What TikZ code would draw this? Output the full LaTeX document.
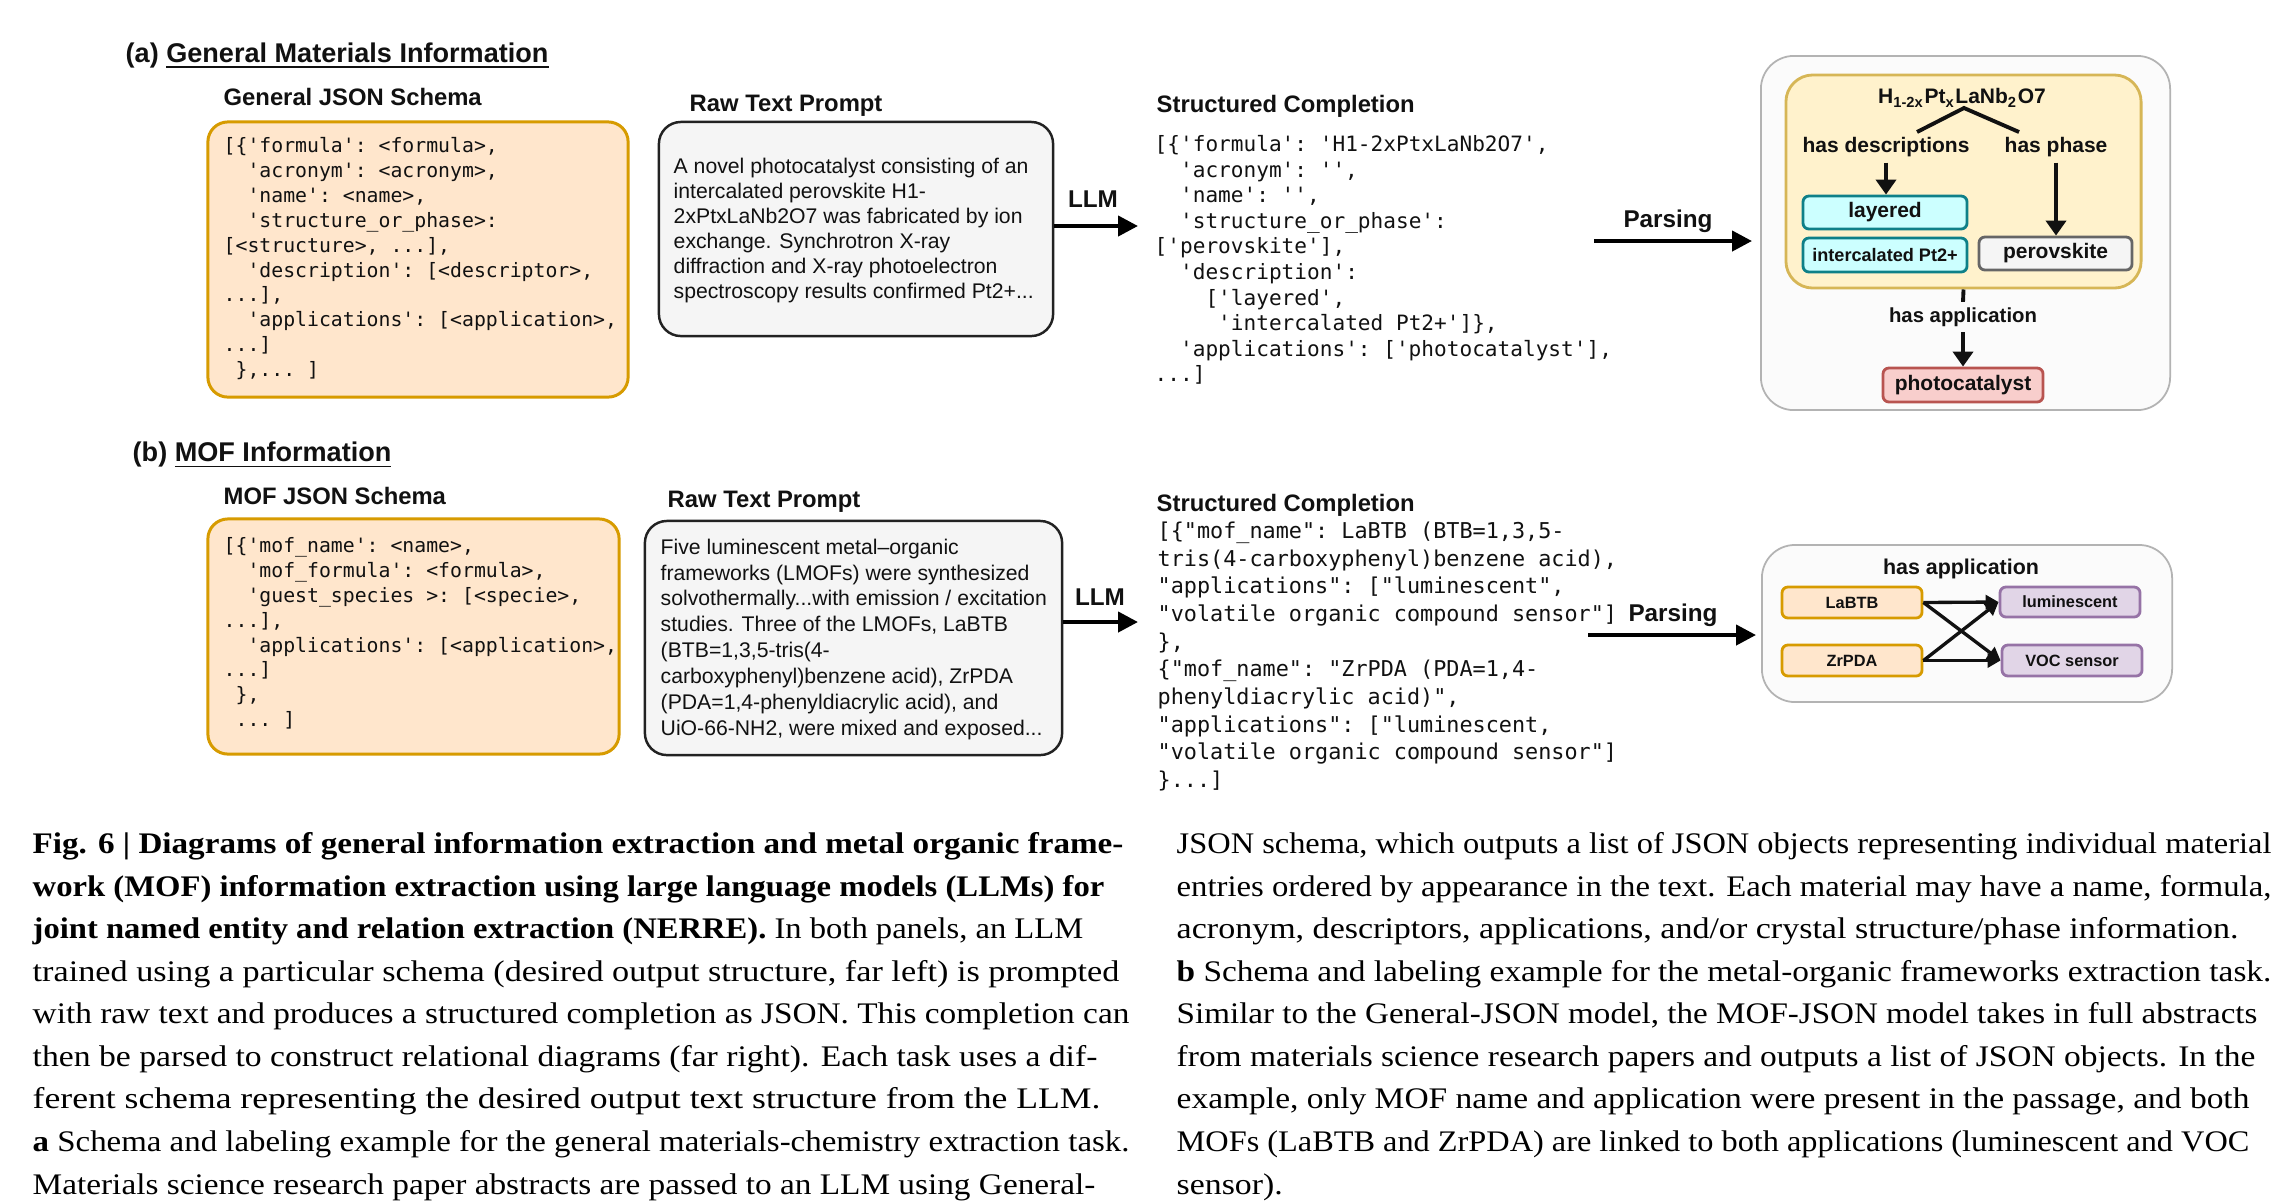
\documentclass[tikz,border=0pt]{standalone}
\usepackage{fontspec}
\usepackage{graphicx}
\setmainfont{Liberation Serif}
\setsansfont{Liberation Sans}
\setmonofont{DejaVu Sans Mono}
\usetikzlibrary{arrows.meta}
\definecolor{schemafill}{HTML}{FFE6CC}
\definecolor{schemaedge}{HTML}{D79B00}
\definecolor{promptfill}{HTML}{F5F5F5}
\definecolor{promptedge}{HTML}{222222}
\definecolor{outerfill}{HTML}{FBFBFB}
\definecolor{outeredge}{HTML}{B3B3B3}
\definecolor{yellowfill}{HTML}{FFF2CC}
\definecolor{yellowedge}{HTML}{D6B656}
\definecolor{tealfill}{HTML}{CCFFFF}
\definecolor{tealedge}{HTML}{0E8088}
\definecolor{grayfill}{HTML}{F5F5F5}
\definecolor{grayedge}{HTML}{666666}
\definecolor{redfill}{HTML}{F8CECC}
\definecolor{rededge}{HTML}{B85450}
\definecolor{purplefill}{HTML}{E1D5E7}
\definecolor{purpleedge}{HTML}{9673A6}
\definecolor{ink}{HTML}{111111}
\newcommand\capline[4]{\node[captxt] (#1) at (#2) {\resizebox{#3}{\height}{#4}};}
\tikzset{
  paneltitle/.style={font=\sffamily\bfseries\fontsize{7.7pt}{9pt}\selectfont, inner sep=0, anchor=base west, text=ink},
  ttl/.style={font=\sffamily\bfseries\fontsize{6.77pt}{8pt}\selectfont, inner sep=0, anchor=base west, text=ink},
  schemabox/.style={draw=schemaedge, fill=schemafill, line width=0.85pt, rounded corners=0.2cm, inner sep=0},
  promptbox/.style={draw=promptedge, fill=promptfill, line width=0.7pt, rounded corners=0.22cm, inner sep=0},
  jsonS/.style={font=\ttfamily\fontsize{5.63pt}{7.06pt}\selectfont, align=left, inner sep=0, anchor=north west, text=ink},
  jsonC/.style={font=\ttfamily\fontsize{6.0pt}{7.26pt}\selectfont, align=left, inner sep=0, anchor=north west, text=ink},
  jsonD/.style={font=\ttfamily\fontsize{6.2pt}{7.88pt}\selectfont, align=left, inner sep=0, anchor=north west, text=ink},
  prompttxt/.style={font=\sffamily\fontsize{6.03pt}{7.14pt}\selectfont, align=left, inner sep=0, anchor=north west, text=ink},
  arrowlbl/.style={font=\sffamily\bfseries\fontsize{6.9pt}{8pt}\selectfont, inner sep=0, text=ink},
  bigarrow/.style={line width=1.2pt, -{Triangle[length=0.2cm,width=0.2cm]}},
  outerbox/.style={draw=outeredge, fill=outerfill, line width=0.5pt, rounded corners=0.33cm, inner sep=0},
  yellowbox/.style={draw=yellowedge, fill=yellowfill, line width=0.8pt, rounded corners=0.27cm, inner sep=0},
  reltxt/.style={font=\sffamily\bfseries\fontsize{5.97pt}{7pt}\selectfont, inner sep=0, text=ink},
  smallbox/.style={line width=0.8pt, rounded corners=0.06cm, inner sep=0, font=\sffamily\bfseries\fontsize{5.97pt}{7pt}\selectfont, text=ink},
  tealbox/.style={smallbox, draw=tealedge, fill=tealfill},
  graybox/.style={smallbox, draw=grayedge, fill=grayfill},
  redbox/.style={smallbox, draw=rededge, fill=redfill},
  orangebox/.style={smallbox, draw=schemaedge, fill=schemafill, font=\sffamily\bfseries\fontsize{4.64pt}{6pt}\selectfont},
  purplebox/.style={smallbox, draw=purpleedge, fill=purplefill, font=\sffamily\bfseries\fontsize{4.64pt}{6pt}\selectfont},
  branchline/.style={line width=1.1pt, ink},
  relarrow/.style={line width=1.1pt, ink, -{Triangle[length=0.15cm,width=0.2cm]}},
  mofarrow/.style={line width=0.95pt, ink, -{Triangle[length=0.13cm,width=0.14cm]}},
  captxt/.style={font=\rmfamily\fontsize{8.5pt}{10pt}\selectfont, inner sep=0, anchor=base west, text=black}
}
\begin{document}
\begin{tikzpicture}[x=0.01cm,y=-0.01cm]
\path[use as bounding box, fill=white] (0,0) rectangle (2288,1202);

% ---------------- panel (a) ----------------
\node[paneltitle] (titleA) at (125,62) {(a) \underline{General Materials Information}};

\node[ttl] (schemaAttl) at (223,105) {General JSON Schema};
\node[schemabox, minimum width=4.20cm, minimum height=2.75cm] (schemaA) at (418,259.5) {};
\node[jsonS] (schemaAtxt) at (223,137) {[\{'formula': <formula>,\\
\phantom{xx}'acronym': <acronym>,\\
\phantom{xx}'name': <name>,\\
\phantom{xx}'structure\_or\_phase>:\\
{}[<structure>, ...],\\
\phantom{xx}'description': [<descriptor>,\\
...],\\
\phantom{xx}'applications': [<application>,\\
...]\\
\phantom{x}\},... ]};

\node[ttl] (promptAttl) at (689,111) {Raw Text Prompt};
\node[promptbox, minimum width=3.94cm, minimum height=2.14cm] (promptA) at (856,229) {};
\node[prompttxt] (promptAtxt) at (673,157) {A novel photocatalyst consisting of an\\
intercalated perovskite H1-\\
2xPtxLaNb2O7 was fabricated by ion\\
exchange. Synchrotron X-ray\\
diffraction and X-ray photoelectron\\
spectroscopy results confirmed Pt2+...};

\node[arrowlbl] (llmA) at (1093,199) {LLM};
\coordinate (llmAend) at (1138,226);
\draw[bigarrow] (promptA.east |- llmAend) -- (llmAend);

\node[ttl] (complAttl) at (1156,112) {Structured Completion};
\node[jsonC] (complA) at (1154,135) {[\{'formula': 'H1-2xPtxLaNb2O7',\\
\phantom{xx}'acronym': '',\\
\phantom{xx}'name': '',\\
\phantom{xx}'structure\_or\_phase':\\
{}['perovskite'],\\
\phantom{xx}'description':\\
\phantom{xxxx}['layered',\\
\phantom{xxxxx}'intercalated Pt2+']\},\\
\phantom{xx}'applications': ['photocatalyst'],\\
...]};

\node[arrowlbl] (parseA) at (1668,221) {Parsing};
\coordinate (parseAstart) at (1594,241);
\coordinate (parseAend) at (1752,241);
\draw[bigarrow] (parseAstart) -- (parseAend);

\node[outerbox, minimum width=4.09cm, minimum height=3.54cm] (outerA) at (1965.5,233) {};
\node[yellowbox, minimum width=3.55cm, minimum height=2.13cm] (innerA) at (1963.5,181.5) {};
\node[reltxt] (formula) at (1962,98) {H\textsubscript{1-2x}Pt\textsubscript{x}LaNb\textsubscript{2}O7};
\node[reltxt] (hasdesc) at (1886,147) {has descriptions};
\node[reltxt] (hasphase) at (2056,147) {has phase};
\coordinate (apexA) at (1964,108);
\coordinate (brL) at (1917,132);
\coordinate (brR) at (2019,132);
\draw[branchline] (brL) -- (apexA) -- (brR);
\node[tealbox, minimum width=1.64cm, minimum height=0.33cm] (layered) at (1885,212.5) {layered};
\node[tealbox, minimum width=1.64cm, minimum height=0.34cm, font=\sffamily\bfseries\fontsize{5.15pt}{6pt}\selectfont] (intercal) at (1885,255) {intercalated Pt2+};
\node[graybox, minimum width=1.53cm, minimum height=0.33cm] (perov) at (2055.5,253.5) {perovskite};
\draw[relarrow, shorten <=0.05cm] (hasdesc.south) -- (hasdesc.south |- layered.north);
\draw[relarrow, shorten <=0.05cm] (hasphase.south) -- (hasphase.south |- perov.north);
\node[reltxt, inner ysep=0.05cm, font=\sffamily\bfseries\fontsize{5.78pt}{7pt}\selectfont] (hasappA) at (1963,317) {has application};
\node[redbox, minimum width=1.60cm, minimum height=0.34cm] (photocat) at (1963,385) {photocatalyst};
\draw[branchline] (innerA.south) -- (hasappA.north);
\draw[relarrow] (hasappA.south) -- (photocat.north);

% ---------------- panel (b) ----------------
\node[paneltitle] (titleB) at (132,461) {(b) \underline{MOF Information}};

\node[ttl] (schemaBttl) at (223,504) {MOF JSON Schema};
\node[schemabox, minimum width=4.11cm, minimum height=2.35cm] (schemaB) at (413.5,636.5) {};
\node[jsonS] (schemaBtxt) at (223,537) {[\{'mof\_name': <name>,\\
\phantom{xx}'mof\_formula': <formula>,\\
\phantom{xx}'guest\_species >: [<specie>,\\
...],\\
\phantom{xx}'applications': [<application>,\\
...]\\
\phantom{x}\},\\
\phantom{x}... ]};

\node[ttl] (promptBttl) at (667,507) {Raw Text Prompt};
\node[promptbox, minimum width=4.17cm, minimum height=2.34cm] (promptB) at (853.5,638) {};
\node[prompttxt, font=\sffamily\fontsize{6.03pt}{7.37pt}\selectfont] (promptBtxt) at (660,538) {Five luminescent metal--organic\\
frameworks (LMOFs) were synthesized\\
solvothermally...with emission / excitation\\
studies. Three of the LMOFs, LaBTB\\
(BTB=1,3,5-tris(4-\\
carboxyphenyl)benzene acid), ZrPDA\\
(PDA=1,4-phenyldiacrylic acid), and\\
UiO-66-NH2, were mixed and exposed...};

\node[arrowlbl] (llmB) at (1100,597) {LLM};
\coordinate (llmBend) at (1138,622);
\draw[bigarrow] (promptB.east |- llmBend) -- (llmBend);

\node[ttl] (complBttl) at (1156,511) {Structured Completion};
\node[jsonD] (complB) at (1157,521) {[\{"mof\_name": LaBTB (BTB=1,3,5-\\
tris(4-carboxyphenyl)benzene acid),\\
"applications": ["luminescent",\\
"volatile organic compound sensor"]\\
\},\\
\{"mof\_name": "ZrPDA (PDA=1,4-\\
phenyldiacrylic acid)",\\
"applications": ["luminescent,\\
"volatile organic compound sensor"]\\
\}...]};

\node[arrowlbl] (parseB) at (1673,615) {Parsing};
\coordinate (parseBstart) at (1588,635);
\coordinate (parseBend) at (1756,635);
\draw[bigarrow] (parseBstart) -- (parseBend);

\node[outerbox, minimum width=4.10cm, minimum height=1.57cm] (outerB) at (1967,623.5) {};
\node[reltxt, font=\sffamily\bfseries\fontsize{6.09pt}{7pt}\selectfont] (hasappB) at (1961,569) {has application};
\node[orangebox, minimum width=1.40cm, minimum height=0.31cm] (labtb) at (1852,602.5) {LaBTB};
\node[orangebox, minimum width=1.40cm, minimum height=0.31cm] (zrpda) at (1852,660.5) {ZrPDA};
\node[purplebox, minimum width=1.40cm, minimum height=0.30cm] (lumin) at (2070,602) {luminescent};
\node[purplebox, minimum width=1.40cm, minimum height=0.31cm] (voc) at (2072,660.5) {VOC sensor};
\draw[mofarrow] (labtb.east) -- (lumin.west);
\draw[mofarrow] (labtb.east) -- (voc.west);
\draw[mofarrow] (zrpda.east) -- (lumin.west);
\draw[mofarrow] (zrpda.east) -- (voc.west);

% ---------------- caption ----------------
\capline{c1}{32,853}{10.90cm}{\textbf{Fig. 6 | Diagrams of general information extraction and metal organic frame-}}
\capline{c2}{32,896}{10.71cm}{\textbf{work (MOF) information extraction using large language models (LLMs) for}}
\capline{c3}{32,938}{10.50cm}{\textbf{joint named entity and relation extraction (NERRE).} In both panels, an LLM}
\capline{c4}{32,981}{10.86cm}{trained using a particular schema (desired output structure, far left) is prompted}
\capline{c5}{32,1023}{10.96cm}{with raw text and produces a structured completion as JSON. This completion can}
\capline{c6}{32,1066}{10.64cm}{then be parsed to construct relational diagrams (far right). Each task uses a dif-}
\capline{c7}{32,1108}{10.67cm}{ferent schema representing the desired output text structure from the LLM.}
\capline{c8}{32,1151}{10.96cm}{\textbf{a} Schema and labeling example for the general materials-chemistry extraction task.}
\capline{c9}{32,1194}{10.62cm}{Materials science research paper abstracts are passed to an LLM using General-}

\capline{d1}{1176,853}{10.94cm}{JSON schema, which outputs a list of JSON objects representing individual material}
\capline{d2}{1176,896}{10.94cm}{entries ordered by appearance in the text. Each material may have a name, formula,}
\capline{d3}{1176,938}{10.61cm}{acronym, descriptors, applications, and/or crystal structure/phase information.}
\capline{d4}{1176,981}{10.94cm}{\textbf{b} Schema and labeling example for the metal-organic frameworks extraction task.}
\capline{d5}{1176,1023}{10.80cm}{Similar to the General-JSON model, the MOF-JSON model takes in full abstracts}
\capline{d6}{1176,1066}{10.78cm}{from materials science research papers and outputs a list of JSON objects. In the}
\capline{d7}{1176,1108}{10.72cm}{example, only MOF name and application were present in the passage, and both}
\capline{d8}{1176,1151}{10.72cm}{MOFs (LaBTB and ZrPDA) are linked to both applications (luminescent and VOC}
\capline{d9}{1176,1194}{1.06cm}{sensor).}
\end{tikzpicture}
\end{document}
